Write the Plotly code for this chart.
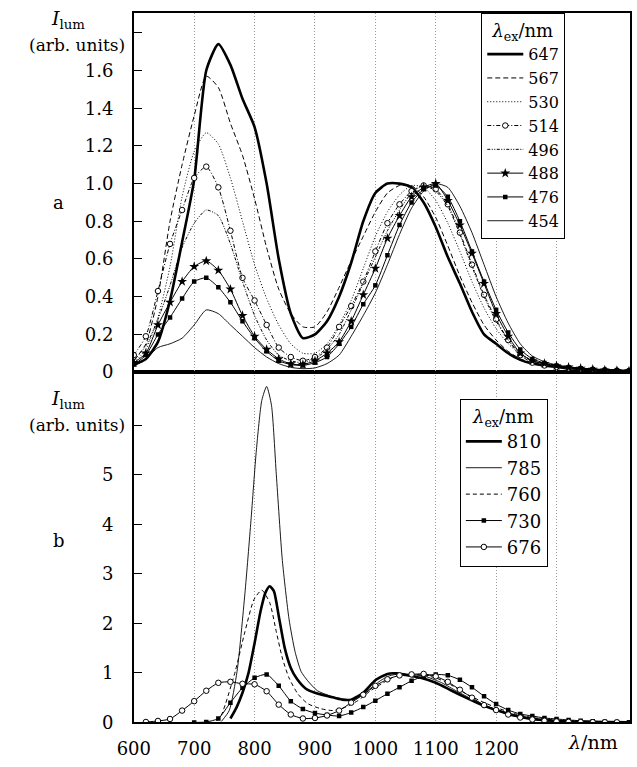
import plotly.graph_objects as go

# ---------------- panel a: luminescence spectra, visible excitation ----------------
wl_a = [600, 620, 640, 660, 680, 700, 720, 740, 760, 780, 800, 820, 840, 860, 880, 900,
        920, 940, 960, 980, 1000, 1020, 1040, 1060, 1080, 1100, 1120, 1140, 1160, 1180,
        1200, 1220, 1240, 1260, 1280, 1300, 1320, 1340, 1360, 1380, 1400, 1420]

i_647 = [0.04, 0.07, 0.16, 0.38, 0.69, 1.02, 1.60, 1.74, 1.63, 1.45, 1.30, 1.00, 0.60, 0.31,
         0.18, 0.20, 0.27, 0.40, 0.58, 0.80, 0.95, 1.00, 1.00, 0.98, 0.90, 0.77, 0.61, 0.47,
         0.32, 0.20, 0.15, 0.10, 0.065, 0.045, 0.035, 0.027, 0.020, 0.017, 0.013, 0.010, 0.008, 0.006]
i_567 = [0.06, 0.15, 0.40, 0.80, 1.10, 1.36, 1.57, 1.51, 1.32, 1.15, 0.92, 0.66, 0.44, 0.31,
         0.24, 0.24, 0.32, 0.45, 0.59, 0.72, 0.85, 0.95, 0.99, 0.99, 0.93, 0.82, 0.67, 0.51,
         0.37, 0.25, 0.17, 0.11, 0.07, 0.05, 0.037, 0.028, 0.021, 0.017, 0.013, 0.010, 0.008, 0.006]
i_530 = [0.05, 0.12, 0.29, 0.56, 0.93, 1.17, 1.27, 1.21, 1.03, 0.80, 0.57, 0.39, 0.25, 0.15,
         0.10, 0.10, 0.15, 0.25, 0.38, 0.55, 0.72, 0.85, 0.94, 0.99, 0.98, 0.91, 0.79, 0.64,
         0.48, 0.34, 0.23, 0.15, 0.095, 0.06, 0.042, 0.030, 0.022, 0.017, 0.013, 0.010, 0.008, 0.006]
i_514 = [0.09, 0.19, 0.43, 0.68, 0.86, 1.03, 1.09, 0.98, 0.75, 0.50, 0.38, 0.25, 0.13, 0.08,
         0.06, 0.08, 0.13, 0.24, 0.35, 0.48, 0.64, 0.79, 0.89, 0.96, 0.99, 0.97, 0.89, 0.74,
         0.57, 0.41, 0.28, 0.17, 0.09, 0.05, 0.035, 0.027, 0.020, 0.016, 0.013, 0.010, 0.008, 0.006]
i_496 = [0.06, 0.14, 0.28, 0.46, 0.66, 0.79, 0.86, 0.83, 0.68, 0.48, 0.30, 0.17, 0.09, 0.06,
         0.05, 0.07, 0.12, 0.20, 0.33, 0.47, 0.61, 0.75, 0.86, 0.95, 0.99, 0.96, 0.88, 0.73,
         0.56, 0.40, 0.27, 0.17, 0.10, 0.06, 0.042, 0.030, 0.022, 0.017, 0.013, 0.010, 0.008, 0.006]
i_488 = [0.05, 0.10, 0.25, 0.37, 0.48, 0.56, 0.59, 0.54, 0.44, 0.30, 0.19, 0.12, 0.07, 0.043,
         0.04, 0.06, 0.10, 0.16, 0.27, 0.41, 0.55, 0.71, 0.83, 0.93, 0.98, 1.00, 0.91, 0.78,
         0.63, 0.47, 0.31, 0.19, 0.10, 0.06, 0.045, 0.033, 0.026, 0.020, 0.015, 0.011, 0.008, 0.006]
i_476 = [0.04, 0.09, 0.20, 0.29, 0.39, 0.48, 0.50, 0.45, 0.37, 0.27, 0.18, 0.11, 0.06, 0.04,
         0.035, 0.05, 0.08, 0.15, 0.24, 0.36, 0.46, 0.62, 0.78, 0.90, 0.97, 0.99, 0.93, 0.80,
         0.64, 0.48, 0.33, 0.21, 0.12, 0.07, 0.048, 0.035, 0.026, 0.020, 0.015, 0.011, 0.008, 0.006]
i_454 = [0.03, 0.07, 0.13, 0.15, 0.18, 0.25, 0.33, 0.31, 0.25, 0.19, 0.13, 0.08, 0.045, 0.025,
         0.018, 0.022, 0.045, 0.09, 0.19, 0.30, 0.42, 0.57, 0.73, 0.87, 0.96, 1.00, 0.98, 0.88,
         0.74, 0.57, 0.40, 0.26, 0.15, 0.085, 0.055, 0.038, 0.028, 0.021, 0.016, 0.012, 0.009, 0.006]

# ---------------- panel b: luminescence spectra, red / NIR excitation ----------------
wl_810 = [760, 770, 780, 790, 800, 810, 818, 825, 832, 840, 850, 860, 870, 885, 900, 925, 945,
          960, 980, 1000, 1020, 1035, 1050, 1075, 1100, 1125, 1150, 1175, 1200, 1230, 1260,
          1300, 1350, 1420]
i_810 = [0.08, 0.30, 0.60, 1.00, 1.60, 2.25, 2.62, 2.75, 2.65, 2.15, 1.50, 1.10, 0.88, 0.68,
         0.60, 0.52, 0.46, 0.46, 0.60, 0.85, 0.98, 0.99, 0.96, 0.90, 0.80, 0.65, 0.50, 0.36,
         0.25, 0.14, 0.07, 0.03, 0.012, 0.005]

wl_785 = [745, 758, 771, 784, 794, 803, 812, 820, 828, 836, 846, 857, 867, 877, 888, 904, 924,
          945, 966, 987, 1008, 1023, 1040, 1060, 1085, 1110, 1135, 1160, 1185, 1210, 1240,
          1270, 1310, 1360, 1420]
i_785 = [0.02, 0.24, 1.03, 2.60, 4.07, 5.50, 6.50, 6.78, 6.40, 5.00, 3.27, 2.09, 1.43, 1.03,
         0.84, 0.64, 0.54, 0.47, 0.47, 0.64, 0.84, 0.94, 0.98, 0.97, 0.92, 0.80, 0.63, 0.47,
         0.33, 0.22, 0.13, 0.07, 0.03, 0.012, 0.005]

wl_760 = [737, 745, 752, 768, 784, 799, 812, 825, 836, 846, 857, 872, 888, 909, 930, 951, 971,
          992, 1013, 1034, 1055, 1075, 1100, 1125, 1150, 1175, 1200, 1230, 1260, 1300, 1350, 1420]
i_760 = [0.03, 0.15, 0.38, 1.03, 1.83, 2.48, 2.67, 2.42, 1.83, 1.30, 0.90, 0.57, 0.38, 0.28,
         0.24, 0.31, 0.44, 0.64, 0.80, 0.94, 0.97, 0.96, 0.90, 0.76, 0.58, 0.43, 0.30, 0.18,
         0.10, 0.045, 0.02, 0.005]

wl_730 = [700, 720, 740, 760, 780, 800, 820, 840, 860, 880, 900, 920, 940, 960, 980, 1000,
          1020, 1040, 1060, 1080, 1100, 1120, 1140, 1160, 1180, 1200, 1220, 1240, 1260, 1280,
          1300, 1320, 1340, 1360, 1380, 1400, 1420]
i_730 = [0.0, 0.01, 0.08, 0.40, 0.70, 0.90, 0.97, 0.74, 0.43, 0.27, 0.19, 0.15, 0.13, 0.20,
         0.31, 0.44, 0.58, 0.71, 0.84, 0.93, 0.97, 0.95, 0.86, 0.71, 0.53, 0.37, 0.25, 0.17,
         0.13, 0.09, 0.07, 0.05, 0.035, 0.025, 0.012, 0.008, 0.005]

wl_676 = [620, 640, 660, 680, 700, 720, 740, 760, 780, 800, 820, 840, 860, 880, 900, 920, 940,
          960, 980, 1000, 1020, 1040, 1060, 1080, 1100, 1120, 1140, 1160, 1180, 1200, 1220,
          1240, 1260, 1280, 1300, 1320, 1340, 1360, 1380, 1400]
i_676 = [0.01, 0.03, 0.07, 0.24, 0.43, 0.64, 0.80, 0.82, 0.78, 0.77, 0.63, 0.36, 0.16, 0.08,
         0.09, 0.14, 0.24, 0.40, 0.56, 0.74, 0.87, 0.95, 0.97, 0.98, 0.93, 0.82, 0.66, 0.50,
         0.35, 0.25, 0.16, 0.10, 0.06, 0.035, 0.02, 0.012, 0.008, 0.005, 0.004, 0.003]

# axis ticks
x_ticks = [600, 700, 800, 900, 1000, 1100, 1200, 1300]
x_ticktext = ["600", "700", "800", "900", "1000", "1100", "1200", ""]
ya_ticks = [0, 0.2, 0.4, 0.6, 0.8, 1.0, 1.2, 1.4, 1.6, 1.8]
ya_ticktext = ["0", "0.2", "0.4", "0.6", "0.8", "1.0", "1.2", "1.4", "1.6", ""]
yb_ticks = [0, 1, 2, 3, 4, 5, 6]
yb_ticktext = ["0", "1", "2", "3", "4", "5", ""]

FONT = "DejaVu Serif"
W, H = 637, 767

fig = go.Figure()


def add(x, y, name, panel, width=1.0, dash="solid", marker=None, legend="legend"):
    xa, ya = ("x2", "y2") if panel == "a" else ("x", "y")
    mode = "lines+markers" if marker else "lines"
    fig.add_trace(go.Scatter(
        x=x, y=y, name=name, mode=mode, xaxis=xa, yaxis=ya, legend=legend,
        line=dict(color="black", width=width, dash=dash, shape="spline", smoothing=0.6),
        marker=marker or {},
    ))


open_circle = dict(symbol="circle", size=5.5, color="white", line=dict(color="black", width=1))
star = dict(symbol="star", size=7.5, color="black", line=dict(width=0))
square = dict(symbol="square", size=4.5, color="black", line=dict(width=0))

# panel a
add(wl_a, i_647, "647", "a", width=2.6)
add(wl_a, i_567, "567", "a", dash="5px,3px")
add(wl_a, i_530, "530", "a", dash="1px,2px")
add(wl_a, i_514, "514", "a", dash="4px,2px,1px,2px", marker=open_circle)
add(wl_a, i_496, "496", "a", dash="3px,1.5px,1px,1.5px,1px,1.5px")
add(wl_a, i_488, "488", "a", marker=star)
add(wl_a, i_476, "476", "a", marker=square)
add(wl_a, i_454, "454", "a", width=0.9)

# panel b
add(wl_810, i_810, "810", "b", width=2.6, legend="legend2")
add(wl_785, i_785, "785", "b", width=0.9, legend="legend2")
add(wl_760, i_760, "760", "b", dash="4px,3px", legend="legend2")
add(wl_730, i_730, "730", "b", marker=square, legend="legend2")
add(wl_676, i_676, "676", "b", marker=open_circle, legend="legend2")

x0, x1 = 120 / W, 630 / W
y_top, y_mid, y_bot = 1 - 13 / H, 1 - 377 / H, 1 - 732 / H

xcommon = dict(range=[600, 1422], domain=[x0, x1], showline=True, mirror=True,
               linecolor="black", linewidth=1.5, tickvals=x_ticks,
               showgrid=True, gridcolor="#9a9a9a", gridwidth=1, griddash="1px,2px",
               zeroline=False, ticks="", tickfont=dict(family=FONT, size=18, color="black"))
ycommon = dict(showline=True, mirror=True, linecolor="black", linewidth=1.5,
               showgrid=False, zeroline=False, ticks="inside", ticklen=8, tickwidth=1.2,
               tickcolor="black", ticklabelstandoff=15,
               tickfont=dict(family=FONT, size=18, color="black"))


def legend_style(size, x, y):
    return dict(bordercolor="black", borderwidth=1, bgcolor="white",
                font=dict(family=FONT, size=size, color="black"),
                xanchor="left", yanchor="top", itemwidth=36, tracegroupgap=0,
                x=x, y=y,
                title=dict(text="<i>λ</i><sub>ex</sub>/nm", side="top center",
                           font=dict(family=FONT, size=18, color="black")))


fig.update_layout(
    width=W, height=H, margin=dict(l=0, r=0, t=0, b=0),
    paper_bgcolor="white", plot_bgcolor="white",
    font=dict(family=FONT, size=18, color="black"),
    xaxis=dict(**xcommon, anchor="y", ticktext=x_ticktext, ticklabelstandoff=9),
    xaxis2=dict(**xcommon, anchor="y2", matches="x", showticklabels=False),
    yaxis=dict(**ycommon, domain=[y_bot, y_mid], range=[0, 7.07], anchor="x",
               tickvals=yb_ticks, ticktext=yb_ticktext),
    yaxis2=dict(**ycommon, domain=[y_mid, y_top], range=[0, 1.906], anchor="x2",
                tickvals=ya_ticks, ticktext=ya_ticktext),
    legend=legend_style(16, 477 / W, y_top),
    legend2=legend_style(18, 455 / W, 1 - 404 / H),
)


def label(text, px, py, size=18):
    fig.add_annotation(text=text, x=px / W, y=1 - py / H, xref="paper", yref="paper",
                       showarrow=False, font=dict(family=FONT, size=size, color="black"),
                       xanchor="center", yanchor="middle")


label("<i>I</i><sub>lum</sub>", 52, 20, size=19)
label("(arb. units)", 62, 46, size=17)
label("a", 43, 205)
label("<i>I</i><sub>lum</sub>", 52, 405, size=19)
label("(arb. units)", 62, 431, size=17)
label("b", 43, 548)
label("<i>λ</i>/nm", 592, 752, size=19)

fig.write_html("out.html")
